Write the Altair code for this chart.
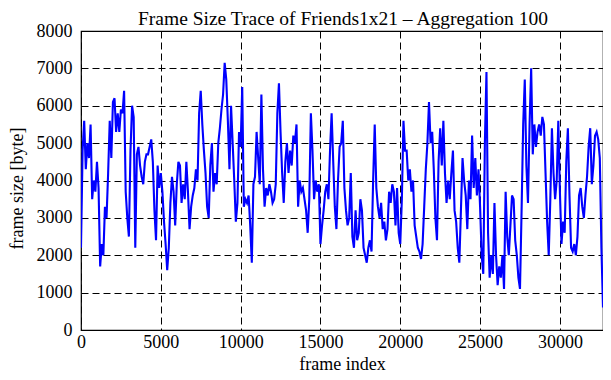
import altair as alt
import pandas as pd

title_text = "Frame Size Trace of Friends1x21 \u2013 Aggregation 100"
x_label = "frame index"
y_label = "frame size [byte]"

x_ticks = [0, 5000, 10000, 15000, 20000, 25000, 30000]
y_ticks = [0, 1000, 2000, 3000, 4000, 5000, 6000, 7000, 8000]

# frame index step of the aggregated trace
agg_step = 100

# aggregated frame sizes [byte], one per 100 frames
sizes_0 = [2200, 4800, 5600, 4300, 5000, 4600, 5500, 3500, 4000, 3700,
           4500, 3800, 1700, 2300, 2000, 3300, 3000, 4200, 5600, 4600,
           6100, 6200, 5300, 5800, 5300, 5900, 5800, 6400, 3700, 3000,
           2500, 4800, 6000, 5700, 2200, 4700, 4900, 4400, 4100, 3900,
           4500, 4700]
sizes_1 = [4700, 4900, 5100, 4500, 3200, 2400, 4400, 3800, 4200, 3700,
           2900, 2300, 1600, 2200, 3400, 4100, 3700, 2800, 3900, 4500,
           4400, 3400, 3900, 3500, 4500, 3700, 2700, 3300, 3600, 3800,
           4300, 4000, 5800, 6400, 5500, 4800, 4200, 3300, 3000, 4400]
sizes_2 = [5000, 3700, 4200, 3900, 5000, 5400, 5900, 6300, 7150, 6700,
           5600, 4300, 6000, 5000, 4000, 2900, 3400, 5300, 4900, 6500,
           3300, 3500, 3400, 3600, 2800, 1800, 3900, 4100, 5300, 4600,
           3900, 6300, 4300, 3300, 3800, 3600, 3900, 3700, 3400, 3500]
sizes_3 = [3900, 5800, 6600, 5300, 4200, 3400, 4500, 5000, 4200, 4800,
           4400, 5200, 5000, 5500, 3300, 4000, 3700, 3800, 3500, 3200,
           2600, 3500, 5800, 4800, 3500, 4000, 3700, 3900, 2300, 2800,
           3200, 3700, 3900, 3500, 4800, 5800, 4500, 3300, 2700, 4000,
           4900]
sizes_4 = [5000, 5600, 3800, 3200, 2800, 3000, 4200, 2500, 2200, 3200,
           2400, 2600, 3500, 3200, 2200, 2000, 1800, 2200, 2400, 2100,
           4000, 5500, 3800, 3300, 3000, 3400, 2700, 2900, 2400, 2700,
           3700, 3400, 3900, 3700, 2800, 3800, 2600, 2300, 3500, 5600,
           4800]
sizes_5 = [4800, 4000, 4300, 3700, 4000, 2800, 2500, 2200, 2100, 1900,
           2300, 3300, 4300, 5000, 6100, 5000, 5300, 4300, 3000, 2400,
           4500, 5400, 4400, 5600, 4200, 3400, 4000, 3500, 4200, 4800,
           3200, 2900, 2200, 1800, 3200, 4600, 4000, 3600, 2700, 4000,
           3500, 5200]
sizes_6 = [3800, 4600, 3600, 4300, 3300, 2000, 1500, 5000, 6900, 2600,
           1400, 2000, 1500, 3400, 2000, 1200, 1700, 1400, 2000, 1100,
           3700, 2500, 2000, 2800, 3600, 3500, 2400, 2000, 1400, 1100,
           3200, 5500, 6700, 4400, 3400, 5500, 7000, 4700, 5500, 4900,
           5300]
sizes_7 = [5500, 5200, 5700, 5500, 4200, 2900, 2000, 3500, 5400, 4200,
           3500, 4000, 5600, 3700, 2300, 2900, 2600, 4500, 5400, 3600,
           2200, 2100, 2300, 2000, 2500, 3600, 3800, 3300, 3000, 3600,
           4100, 4900, 5400, 3900, 4400, 5200, 5300, 5100, 4600, 2200,
           600]

sizes = sizes_0 + sizes_1 + sizes_2 + sizes_3 + sizes_4 + sizes_5 + sizes_6 + sizes_7
frames = [i * agg_step for i in range(len(sizes))]

df = pd.DataFrame({"frame": frames, "size": sizes})
title_df = pd.DataFrame({"t": [title_text]})

font = "Liberation Serif"
fs_label = 18
fs_title = 18
fs_main = 19.5

grid_style = dict(
    grid=True,
    gridDash=[7, 4],
    gridColor="black",
    gridOpacity=1,
    gridWidth=1,
    ticks=False,
    domain=False,
    labelFlush=False,
    labelOverlap=False,
    labelFont=font,
    labelFontSize=fs_label,
    labelColor="black",
    titleFont=font,
    titleFontSize=fs_title,
    titleFontWeight="normal",
    titleColor="black",
    format="d",
)

line = (
    alt.Chart(df)
    .mark_line(color="#0000ff", strokeWidth=2.1, clip=True)
    .encode(
        x=alt.X(
            "frame:Q",
            scale=alt.Scale(domain=[0, frames[-1]], nice=False, zero=False),
            axis=alt.Axis(
                values=x_ticks,
                title=x_label,
                labelPadding=3,
                titleY=39,
                titleBaseline="alphabetic",
                **grid_style,
            ),
        ),
        y=alt.Y(
            "size:Q",
            scale=alt.Scale(domain=[0, 8000], nice=False),
            axis=alt.Axis(
                values=y_ticks,
                title=y_label,
                labelPadding=9,
                titleX=-59,
                titleY=157,
                titleBaseline="alphabetic",
                titleAngle=270,
                **grid_style,
            ),
        ),
    )
)

title_mark = (
    alt.Chart(title_df)
    .mark_text(
        font=font,
        fontSize=fs_main,
        color="black",
        align="center",
        baseline="alphabetic",
    )
    .encode(text="t:N", x=alt.value(262), y=alt.value(-6))
)

chart = (
    alt.layer(line, title_mark)
    .properties(
        width=522,
        height=299,
        background="white",
        autosize=alt.AutoSizeParams(type="none"),
        padding={"left": 73, "top": 23, "right": 0, "bottom": 42},
    )
    .configure_view(stroke="black", strokeWidth=1.2)
)

chart.save("out.html", embed_options={"renderer": "svg", "actions": False})
